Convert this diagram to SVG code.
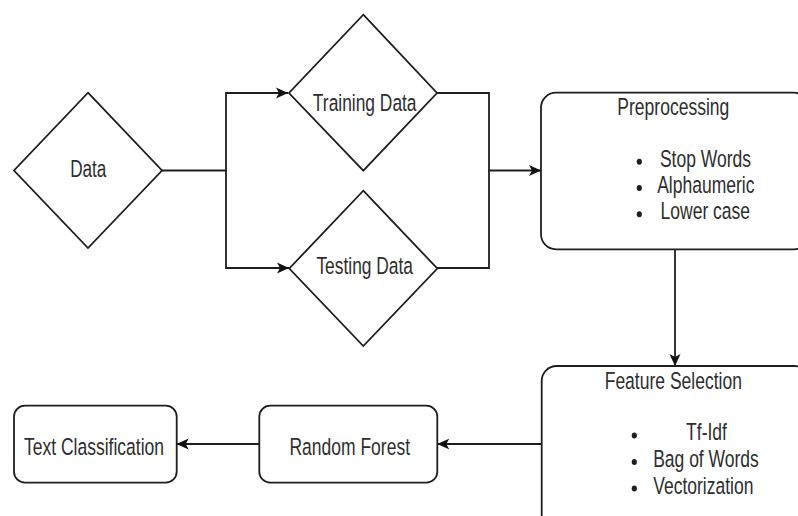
<svg xmlns="http://www.w3.org/2000/svg" width="798" height="516" viewBox="0 0 798 516">
  <defs>
    <style>
      .shape { fill: #ffffff; stroke: #1e1e1e; stroke-width: 1.8; }
      .edge { fill: none; stroke: #1e1e1e; stroke-width: 1.8; }
      .lbl { font-family: "Liberation Sans", Arial, sans-serif; font-size: 23.5px; fill: #2e2e2e; text-anchor: middle; }
      .dot { fill: #1e1e1e; }
    </style>
    <marker id="arrow" viewBox="0 0 12 12" refX="12" refY="6" markerWidth="12" markerHeight="12" markerUnits="userSpaceOnUse" orient="auto">
      <path d="M0,0.5 L12,6 L0,11.5 L3,6 Z" fill="#111111"/>
    </marker>
  </defs>

  <rect width="798" height="516" fill="#ffffff"/>

  <!-- connectors -->
  <g id="connectors">
    <path class="edge" d="M162,170.5 H226 V93 H288" marker-end="url(#arrow)"/>
    <path class="edge" d="M226,170.5 V268 H289" marker-end="url(#arrow)"/>
    <path class="edge" d="M437,93 H489 V170.5 H541" marker-end="url(#arrow)"/>
    <path class="edge" d="M437,268 H489 V170.5"/>
    <path class="edge" d="M675,249.3 V366" marker-end="url(#arrow)"/>
    <path class="edge" d="M541.7,444 H437.3" marker-end="url(#arrow)"/>
    <path class="edge" d="M259.3,444 H176.7" marker-end="url(#arrow)"/>
  </g>

  <!-- Data -->
  <g id="data">
    <polygon class="shape" points="88,92.7 162,170.5 88,248 14,170.5"/>
    <text class="lbl" transform="translate(88.3 177) scale(0.73 1)">Data</text>
  </g>

  <!-- Training Data -->
  <g id="training">
    <polygon class="shape" points="363.3,14.7 437,93 363.3,170.7 289,93"/>
    <text class="lbl" transform="translate(364.7 111) scale(0.74 1)">Training Data</text>
  </g>

  <!-- Testing Data -->
  <g id="testing">
    <polygon class="shape" points="363.3,190.7 437.3,268.5 363.3,346 289.3,268.5"/>
    <text class="lbl" transform="translate(364.7 274) scale(0.74 1)">Testing Data</text>
  </g>

  <!-- Preprocessing -->
  <g id="preprocessing">
    <rect class="shape" x="541" y="92.7" width="268" height="156.6" rx="15" ry="15"/>
    <text class="lbl" transform="translate(673.3 115) scale(0.745 1)">Preprocessing</text>
    <ellipse class="dot" cx="639.3" cy="161.7" rx="2.6" ry="3"/>
    <ellipse class="dot" cx="639.3" cy="188" rx="2.6" ry="3"/>
    <ellipse class="dot" cx="639.3" cy="214.3" rx="2.6" ry="3"/>
    <text class="lbl" transform="translate(705.5 166.7) scale(0.745 1)">Stop Words</text>
    <text class="lbl" transform="translate(705.8 193) scale(0.745 1)">Alphaumeric</text>
    <text class="lbl" transform="translate(705.3 219.3) scale(0.745 1)">Lower case</text>
  </g>

  <!-- Feature Selection -->
  <g id="feature-selection">
    <rect class="shape" x="541.7" y="366" width="268" height="180" rx="15" ry="15"/>
    <text class="lbl" transform="translate(673.3 389.3) scale(0.745 1)">Feature Selection</text>
    <ellipse class="dot" cx="634.3" cy="435.5" rx="2.6" ry="3"/>
    <ellipse class="dot" cx="634.3" cy="462" rx="2.6" ry="3"/>
    <ellipse class="dot" cx="634.3" cy="488.5" rx="2.6" ry="3"/>
    <text class="lbl" transform="translate(706.5 440) scale(0.745 1)">Tf-Idf</text>
    <text class="lbl" transform="translate(706 467) scale(0.745 1)">Bag of Words</text>
    <text class="lbl" transform="translate(703.3 494) scale(0.745 1)">Vectorization</text>
  </g>

  <!-- Random Forest -->
  <g id="random-forest">
    <rect class="shape" x="259.3" y="405.7" width="178" height="77" rx="11" ry="11"/>
    <text class="lbl" transform="translate(349.7 455) scale(0.745 1)">Random Forest</text>
  </g>

  <!-- Text Classification -->
  <g id="text-classification">
    <rect class="shape" x="14" y="405.7" width="162.7" height="77" rx="11" ry="11"/>
    <text class="lbl" transform="translate(94 455) scale(0.745 1)">Text Classification</text>
  </g>
</svg>
